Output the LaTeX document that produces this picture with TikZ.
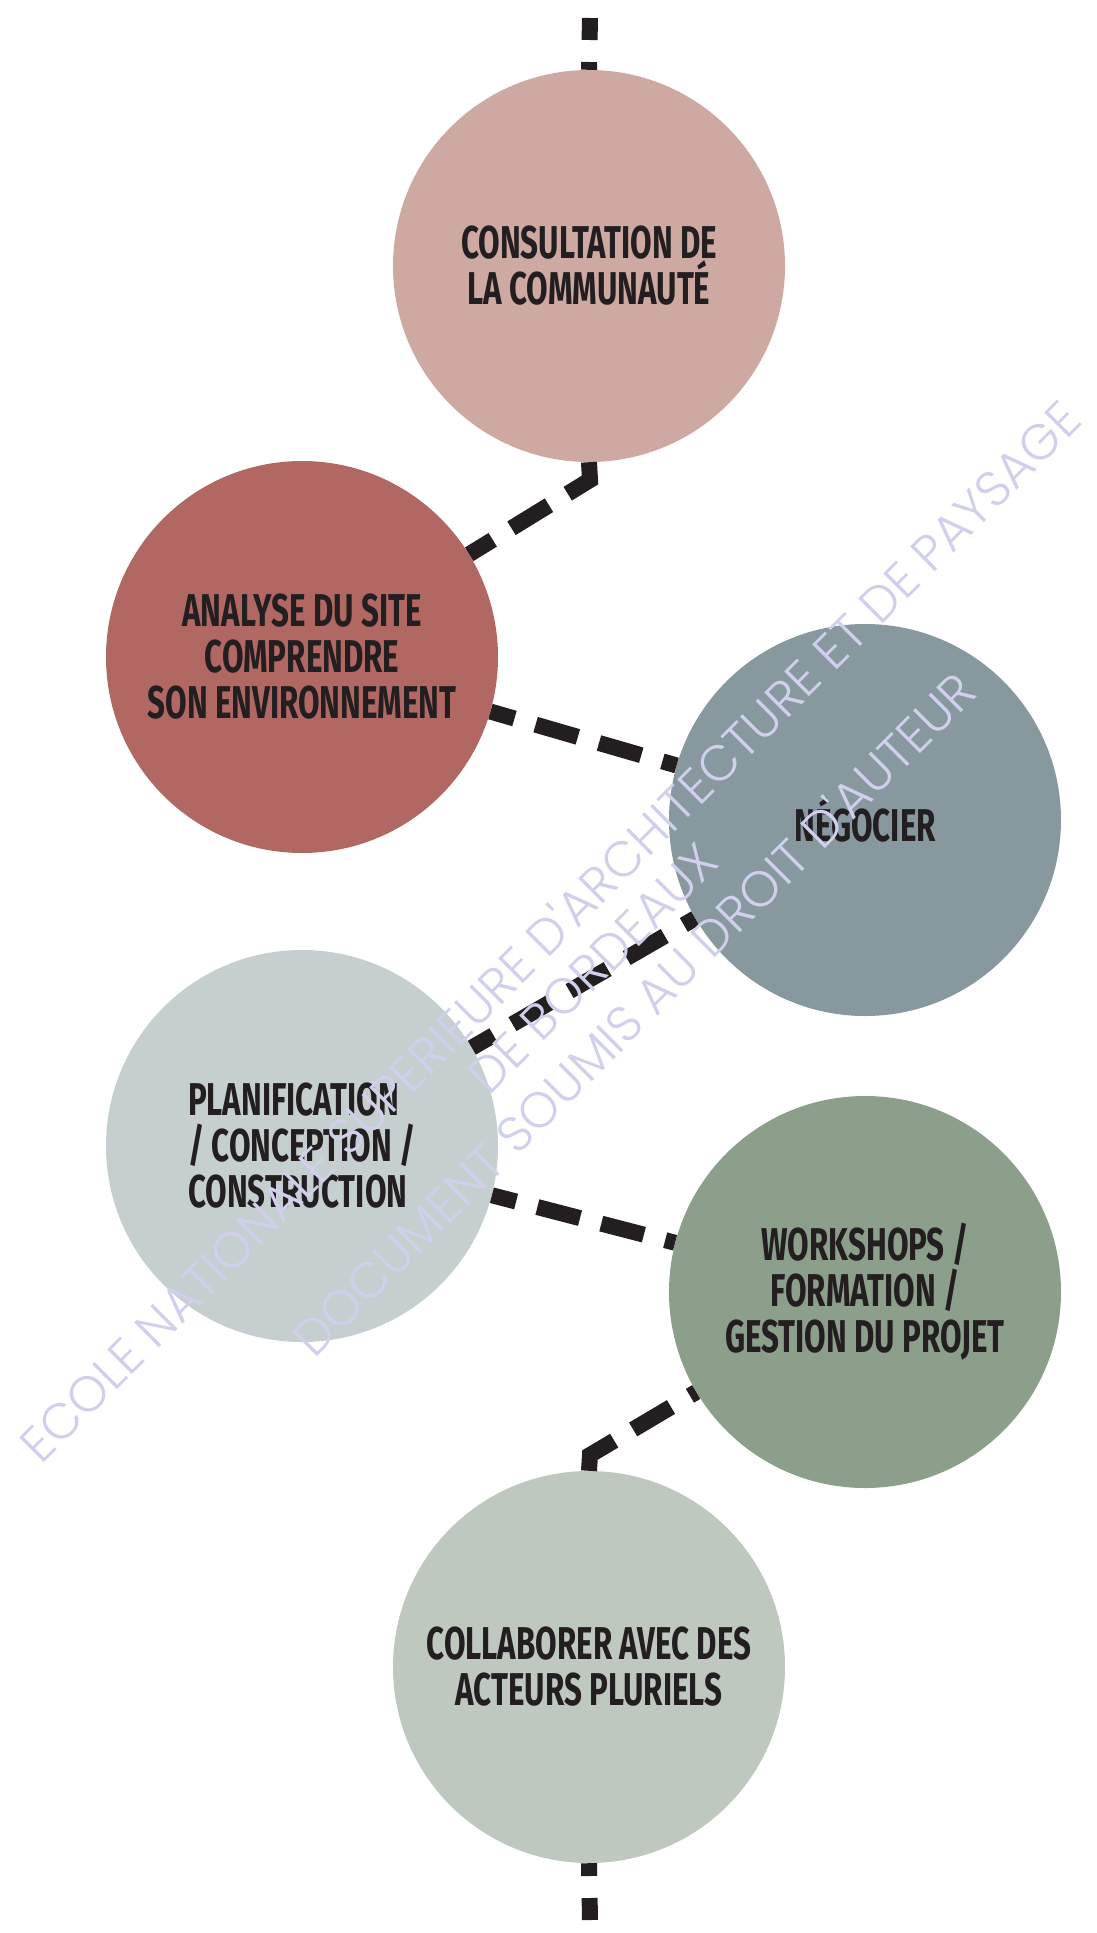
\documentclass[tikz,border=0pt]{standalone}
\usepackage{fontspec}
\usetikzlibrary{backgrounds}
\newfontfamily\stagefont[FakeStretch=0.68]{Fira Sans}
\IfFontExistsTF{Poppins Light}{\newfontfamily\markfont{Poppins Light}}{\newfontfamily\markfont{Poppins}}
\definecolor{consult}{HTML}{CDA9A1}
\definecolor{analyse}{HTML}{B26862}
\definecolor{negoc}{HTML}{87989F}
\definecolor{planif}{HTML}{C6CFCF}
\definecolor{worksh}{HTML}{8C9F8B}
\definecolor{collab}{HTML}{BFC8BF}
\definecolor{ink}{HTML}{231F20}
\definecolor{wmark}{RGB}{208,208,236}

\begin{document}
\begin{tikzpicture}[
                  x=1pt, y=-1pt,
                  stage/.style={circle, minimum size=392pt, inner sep=0pt, align=center,
                                text=ink, font=\stagefont\bfseries\fontsize{46}{46}\selectfont},
                  link/.style={draw=ink, line width=16pt, dash pattern=on 44pt off 22pt},
                  stub/.style={draw=ink, line width=16pt, dash pattern=on 22pt off 22pt},
                  wmtext/.style={text=wmark, rotate=45, inner sep=0pt,
                               font=\markfont\fontsize{50}{60}\selectfont},
            ]
            \fill[white] (0,0) rectangle (1097,1933);
            \useasboundingbox (0,0) rectangle (1097,1933);

            \node[stage, fill=consult] (cons) at (589,266) {CONSULTATION DE\\LA COMMUNAUTÉ};
            \node[stage, fill=analyse] (ana) at (302,657) {ANALYSE DU SITE\\COMPRENDRE\\SON ENVIRONNEMENT};
            \node[stage, fill=negoc] (neg) at (865,820) {NÉGOCIER};
            \node[stage, fill=planif, align=left] (plan) at (302,1146) {PLANIFICATION\\/ CONCEPTION /\\CONSTRUCTION};
            \node[stage, fill=worksh] (work) at (865,1292) {WORKSHOPS /\\FORMATION /\\GESTION DU PROJET};
            \node[stage, fill=collab] (colab) at (589,1667) {COLLABORER AVEC DES\\ACTEURS PLURIELS};

            \coordinate (top) at (590,18);
            \coordinate (bot) at (590,1920);
            \coordinate (bend1) at (590,480);
            \coordinate (bend2) at (590,1455);

            \draw[stub] (top) -- (cons.north);
            \draw[link, line join=miter] (cons.south) -- (bend1) -- (ana);
            \draw[link, dash phase=19pt] (ana) -- (neg);
            \draw[link, dash phase=19pt] (plan) -- (neg);
            \draw[link, dash phase=19pt] (plan) -- (work);
            \draw[link, line join=miter] (colab.north) -- (bend2) -- (work);
            \draw[stub] (bot) -- (colab.south);

            % watermark
            \node[wmtext] (wm1) at (549,930) {ECOLE NATIONALE SUPERIEURE D'ARCHITECTURE ET DE PAYSAGE};
            \node[wmtext] (wm2) at (593,968) {DE BORDEAUX};
            \node[wmtext] (wm3) at (633,1013) {DOCUMENT SOUMIS AU DROIT D'AUTEUR};
      \end{tikzpicture}
\end{document}
